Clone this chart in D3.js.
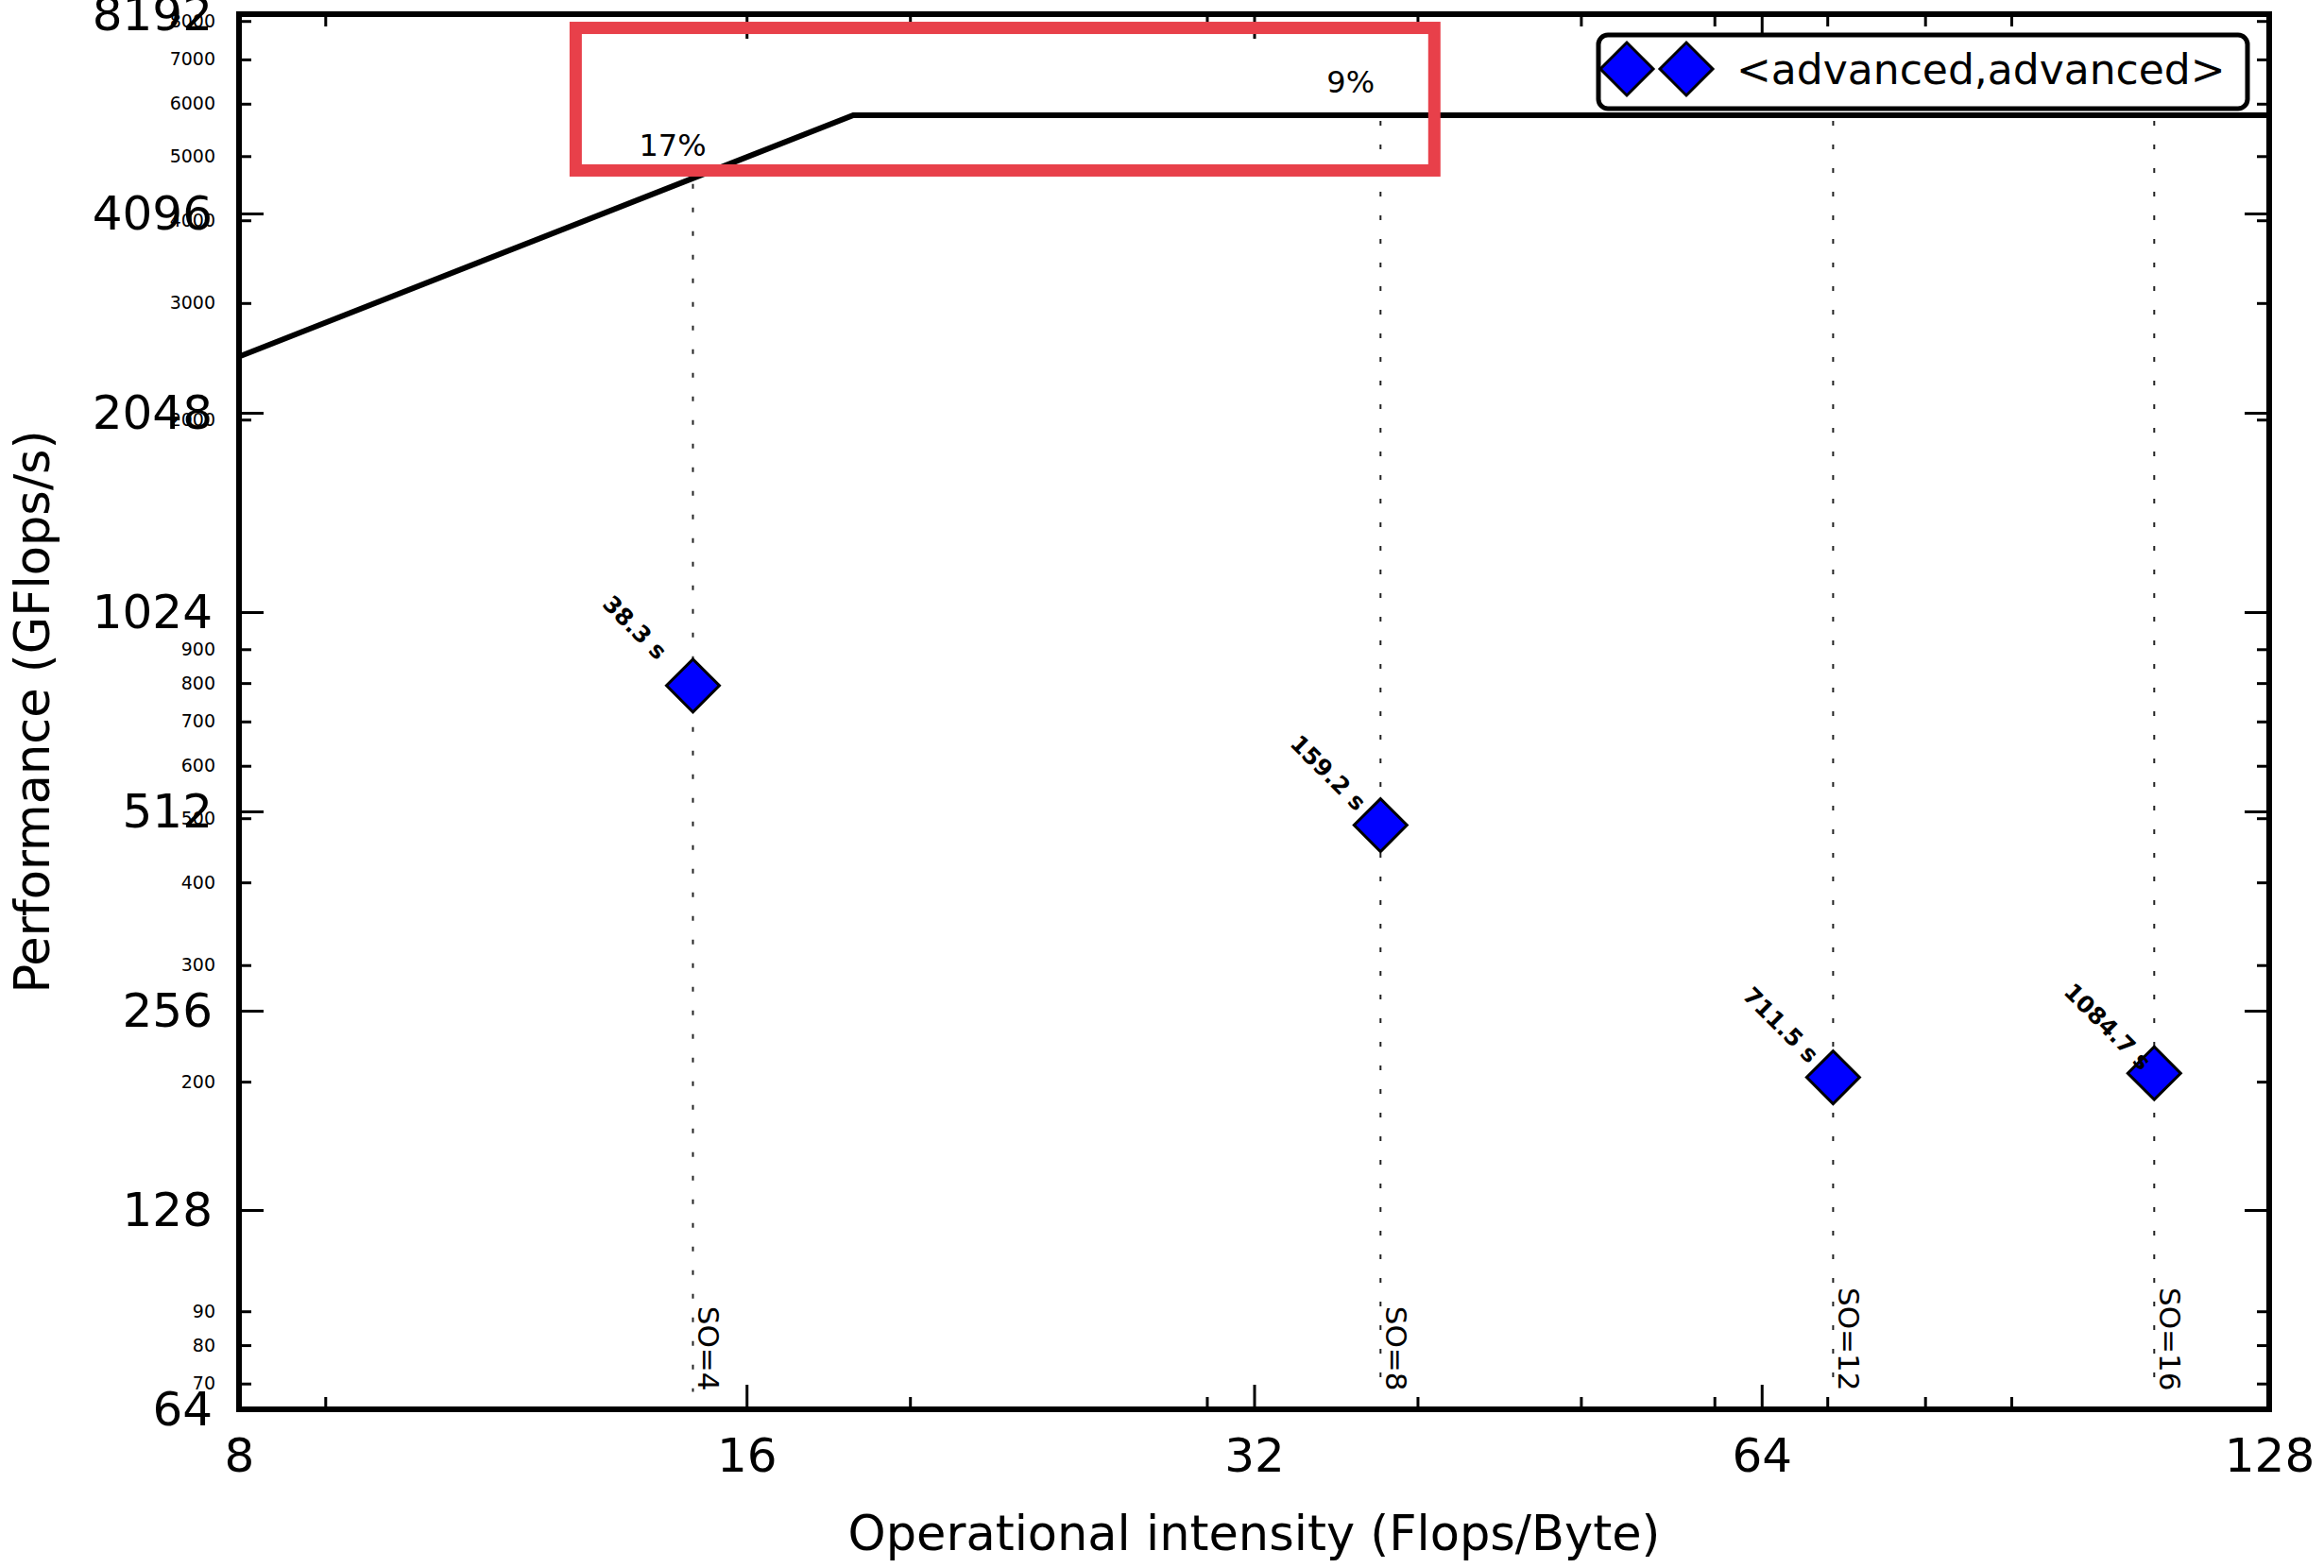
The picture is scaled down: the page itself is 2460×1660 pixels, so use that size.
<!DOCTYPE html>
<html>
<head>
<meta charset="utf-8">
<script src="https://cdn.jsdelivr.net/npm/d3@7"></script>
<style>
  body { margin: 0; background: #fff; }
  svg { display: block; font-family: "DejaVu Sans", sans-serif; }
</style>
</head>
<body>
<div id="chart"></div>
<script>
// roofline data
const soLabels = ["SO=4", "SO=8", "SO=12", "SO=16"];
const intensity = [14.87, 38.03, 70.56, 109.4];     // Flops/Byte
const performance = [793, 488, 203, 206];           // GFlops/s
const runtimes = ["38.3 s", "159.2 s", "711.5 s", "1084.7 s"];
const efficiency = ["17%", "9%", null, null];

const roofIntensity = [8, 18.51, 128];
const roofPerf = [2490, 5764, 5764];

const xMajor = [8, 16, 32, 64, 128];
const xMinor = [9, 20, 30, 40, 50, 60, 70, 80, 90];
const yMajor = [64, 128, 256, 512, 1024, 2048, 4096, 8192];
const yMinor = [70, 80, 90, 200, 300, 400, 500, 600, 700, 800, 900,
                2000, 3000, 4000, 5000, 6000, 7000, 8000];

const legendLabel = "<advanced,advanced>";
const highlightX = [12.67, 40.93];
const highlightY = [4757, 7810];
const soBottom = 68;

const W = 2460, H = 1660;
const margin = {top: 15, left: 253, right: 58, bottom: 168};

const svg = d3.select('#chart').append('svg')
  .attr('width', W)
  .attr('height', H);

const x = d3.scaleLog().base(2)
  .domain([8, 128])
  .range([margin.left, W - margin.right]);

const y = d3.scaleLog().base(2)
  .domain([64, 8192])
  .range([H - margin.bottom, margin.top]);

const x0 = x.range()[0], x1 = x.range()[1];
const y0 = y.range()[0], y1 = y.range()[1];

// attainable performance under the roof, for label placement
const bw = roofPerf[0] / roofIntensity[0];
const roofAt = v => Math.min(roofPerf[1], bw * v);

// ---- axes (ticks pointing inward) ----
function styleAxis(g) {
  g.select('.domain').remove();
  g.selectAll('.tick line').attr('stroke', '#000').attr('stroke-width', 3);
  g.attr('font-family', '"DejaVu Sans", sans-serif');
}

svg.append('g')
  .attr('transform', 'translate(0,' + y0 + ')')
  .call(d3.axisBottom(x).tickValues(xMajor).tickSize(-26).tickSizeOuter(0)
    .tickPadding(30).tickFormat(d3.format('d')))
  .call(styleAxis)
  .attr('font-size', 50);

svg.append('g')
  .attr('transform', 'translate(0,' + y0 + ')')
  .call(d3.axisBottom(x).tickValues(xMinor).tickSize(-13).tickSizeOuter(0).tickFormat(''))
  .call(styleAxis);

svg.append('g')
  .attr('transform', 'translate(0,' + y1 + ')')
  .call(d3.axisTop(x).tickValues(xMajor).tickSize(-26).tickSizeOuter(0).tickFormat(''))
  .call(styleAxis);

svg.append('g')
  .attr('transform', 'translate(0,' + y1 + ')')
  .call(d3.axisTop(x).tickValues(xMinor).tickSize(-13).tickSizeOuter(0).tickFormat(''))
  .call(styleAxis);

svg.append('g')
  .attr('transform', 'translate(' + x0 + ',0)')
  .call(d3.axisLeft(y).tickValues(yMinor).tickSize(-13).tickSizeOuter(0)
    .tickPadding(25).tickFormat(d3.format('d')))
  .call(styleAxis)
  .attr('font-size', 19);

svg.append('g')
  .attr('transform', 'translate(' + x0 + ',0)')
  .call(d3.axisLeft(y).tickValues(yMajor).tickSize(-26).tickSizeOuter(0)
    .tickPadding(28).tickFormat(d3.format('d')))
  .call(styleAxis)
  .attr('font-size', 50);

svg.append('g')
  .attr('transform', 'translate(' + x1 + ',0)')
  .call(d3.axisRight(y).tickValues(yMajor).tickSize(-26).tickSizeOuter(0).tickFormat(''))
  .call(styleAxis);

svg.append('g')
  .attr('transform', 'translate(' + x1 + ',0)')
  .call(d3.axisRight(y).tickValues(yMinor).tickSize(-13).tickSizeOuter(0).tickFormat(''))
  .call(styleAxis);

// ---- roofline ----
const roofLine = d3.line()
  .x((d, i) => x(roofIntensity[i]))
  .y(d => y(d));

svg.append('path')
  .attr('d', roofLine(roofPerf))
  .attr('fill', 'none')
  .attr('stroke', '#000')
  .attr('stroke-width', 6);

// ---- vertical dotted guides ----
svg.selectAll('.guide')
  .data(intensity)
  .enter()
  .append('line')
  .attr('class', 'guide')
  .attr('x1', d => x(d))
  .attr('x2', d => x(d))
  .attr('y1', d => y(roofAt(d)) + 6)
  .attr('y2', y(soBottom))
  .attr('stroke', '#222')
  .attr('stroke-width', 2)
  .attr('stroke-dasharray', '5,20');

// SO labels, rotated to read downward
svg.selectAll('.so')
  .data(intensity)
  .enter()
  .append('text')
  .attr('class', 'so')
  .attr('transform', d => 'translate(' + (x(d) + 6) + ',' + (y(soBottom) - 1) + ') rotate(90)')
  .attr('text-anchor', 'end')
  .attr('font-size', 31)
  .text((d, i) => soLabels[i]);

// efficiency labels above the roof
svg.selectAll('.pct')
  .data(intensity.filter((d, i) => efficiency[i]))
  .enter()
  .append('text')
  .attr('class', 'pct')
  .attr('x', d => x(d) - 57)
  .attr('y', d => y(roofAt(d)) - 24)
  .attr('font-size', 32)
  .text((d, i) => efficiency[i]);

// ---- points ----
const diamond = d3.symbol(d3.symbolSquare, 1568);

svg.selectAll('.pt')
  .data(intensity)
  .enter()
  .append('path')
  .attr('class', 'pt')
  .attr('d', diamond)
  .attr('transform', (d, i) => 'translate(' + x(d) + ',' + y(performance[i]) + ') rotate(45)')
  .attr('fill', '#0000ff')
  .attr('stroke', '#000')
  .attr('stroke-width', 3);

svg.selectAll('.rt')
  .data(intensity)
  .enter()
  .append('text')
  .attr('class', 'rt')
  .attr('transform', (d, i) => 'translate(' + (x(d) - 97) + ',' + (y(performance[i]) - 85) + ') rotate(45)')
  .attr('font-size', 24.5)
  .attr('font-weight', 'bold')
  .text((d, i) => runtimes[i]);

// ---- highlight box ----
svg.append('rect')
  .attr('x', x(highlightX[0]))
  .attr('y', y(highlightY[1]))
  .attr('width', x(highlightX[1]) - x(highlightX[0]))
  .attr('height', y(highlightY[0]) - y(highlightY[1]))
  .attr('fill', 'none')
  .attr('stroke', '#e8404a')
  .attr('stroke-width', 13);

// ---- frame ----
svg.append('rect')
  .attr('x', x0)
  .attr('y', y1)
  .attr('width', x1 - x0)
  .attr('height', y0 - y1)
  .attr('fill', 'none')
  .attr('stroke', '#000')
  .attr('stroke-width', 6);

// ---- legend ----
const legend = svg.append('g');
legend.append('rect')
  .attr('x', 1692).attr('y', 37)
  .attr('width', 687).attr('height', 78)
  .attr('rx', 10)
  .attr('fill', '#fff')
  .attr('stroke', '#000')
  .attr('stroke-width', 5);
legend.selectAll('path')
  .data([1722, 1785])
  .enter()
  .append('path')
  .attr('d', diamond)
  .attr('transform', d => 'translate(' + d + ',73) rotate(45)')
  .attr('fill', '#0000ff')
  .attr('stroke', '#000')
  .attr('stroke-width', 3);
legend.append('text')
  .attr('x', 1838).attr('y', 89)
  .attr('font-size', 44)
  .text(legendLabel);

// ---- axis titles ----
svg.append('text')
  .attr('x', (x0 + x1) / 2)
  .attr('y', 1641)
  .attr('text-anchor', 'middle')
  .attr('font-size', 51)
  .text('Operational intensity (Flops/Byte)');

svg.append('text')
  .attr('transform', 'translate(52,' + ((y0 + y1) / 2) + ') rotate(-90)')
  .attr('text-anchor', 'middle')
  .attr('font-size', 51)
  .text('Performance (GFlops/s)');
</script>
</body>
</html>
